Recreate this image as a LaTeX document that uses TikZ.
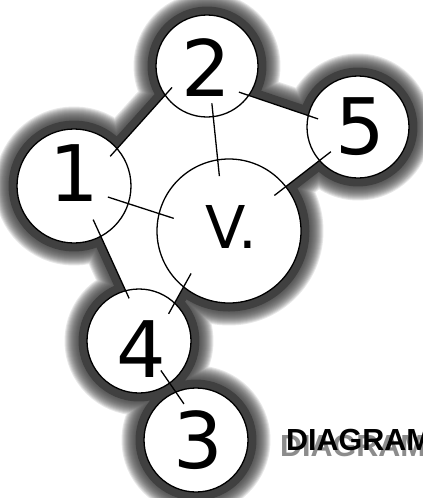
\documentclass[tikz,border=0pt]{standalone}
\usepackage{fontspec}
\newfontfamily\ballfont{DejaVu Sans}
\newfontfamily\titlefont{Liberation Sans}
\usetikzlibrary{backgrounds}

\definecolor{glowgray}{HTML}{404040}
\definecolor{titleshade}{HTML}{8C8C8C}

\tikzset{
    ball/.style={circle, draw=black, line width=1.3pt, fill=white, inner sep=0pt},
    link/.style 2 args={draw=black, line width=1.3pt, shorten <=-#1pt, shorten >=-#2pt},
    num/.style={font=\ballfont\fontsize{78}{78}\selectfont, inner sep=0pt},
    glow/.style={draw=glowgray, line join=round, line cap=round},
    titletext/.style={font=\titlefont\bfseries\fontsize{30.5}{31}\selectfont, inner sep=0pt, anchor=base west},
}

\begin{document}
\begin{tikzpicture}[x=1pt, y=-1pt]
    \useasboundingbox (0,0) rectangle (423,498);

    % the balls
    \node[ball, minimum size=114pt] (n1) at (74,186) {};
    \node[ball, minimum size=102pt] (n2) at (207,66) {};
    \node[ball, minimum size=102pt] (n5) at (358,127) {};
    \node[ball, minimum size=144pt] (nV) at (229,231) {};
    \node[ball, minimum size=104pt] (n4) at (139,341) {};
    \node[ball, minimum size=104pt] (n3) at (196,440) {};

    % outline of the group and its inner face
    \path[save path=\facepath] (n1.41) -- (n2.215) -- (n2.-35) -- (n5.167) -- (n5.221)
        -- (nV.38) -- (nV.231) -- (n4.47) -- (n4.105) -- (n1.-62) -- cycle;
    \path[save path=\grouppath] (n1.41) -- (n2.215) -- (n2.-35) -- (n5.167) -- (n5.221)
        -- (nV.38) -- (nV.231) -- (n4.47) -- (n4.105) -- (n1.-62) -- cycle
        (n1.center) circle (57pt) (n2.center) circle (51pt) (n5.center) circle (51pt)
        (nV.center) circle (72pt) (n4.center) circle (52pt) (n3.center) circle (52pt)
        (n4.-54) -- (n3.113);

    \begin{scope}[on background layer]
        \fill[white] (0,0) rectangle (423,498);
        \foreach \w in {45,43,...,19}
            \draw[glow, line width=\w pt, draw opacity=0.12, use path=\grouppath];
        \draw[glow, line width=17pt, use path=\grouppath];
        \fill[white, use path=\facepath];
    \end{scope}

    % links
    \draw[link={11}{11}] (n1.41) -- (n2.215);
    \draw[link={11}{11}] (n2.-35) -- (n5.167);
    \draw[link={14}{17}] (n2.-83) -- (nV.99);
    \draw[link={22}{16}] (n1.-18) -- (nV.166);
    \draw[link={15}{15}] (n5.221) -- (nV.38);
    \draw[link={19}{9}] (n1.-62) -- (n4.105);
    \draw[link={16}{13}] (nV.231) -- (n4.47);
    \draw[link={16}{15}] (n4.-54) -- (n3.113);

    % labels
    \node[num] (t1) at ([yshift=13pt]n1) {1};
    \node[num] (t2) at ([xshift=-1pt, yshift=-2pt]n2) {2};
    \node[num] (t5) at ([xshift=2pt]n5) {5};
    \node[num, font=\ballfont\fontsize{59}{59}\selectfont] (tV) at ([xshift=2pt, yshift=4pt]nV) {V.};
    \node[num] (t4) at ([xshift=2pt, yshift=-8pt]n4) {4};
    \node[num] (t3) at ([xshift=2pt]n3) {3};

    \node[titletext, text=titleshade] (titleshadow) at (280,456) {DIAGRAM};
    \node[titletext] (title) at (286,450) {DIAGRAM};
\end{tikzpicture}
\end{document}
